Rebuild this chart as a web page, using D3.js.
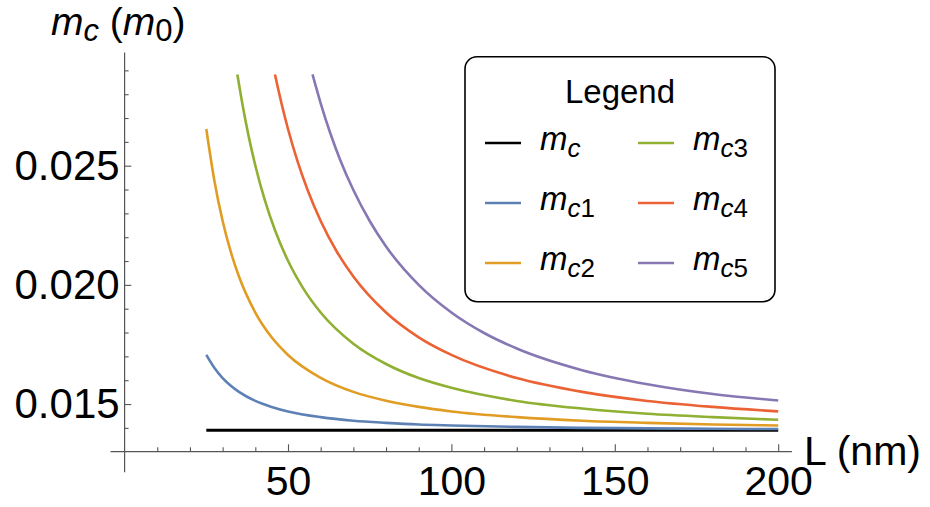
<!DOCTYPE html>
<html>
<head>
<meta charset="utf-8">
<script src="https://cdn.jsdelivr.net/npm/d3@7"></script>
<style>
  body { margin: 0; background: #fff; }
  svg { display: block; font-family: "Liberation Sans", Arial, Helvetica, sans-serif; }
</style>
</head>
<body>
<svg id="chart" width="930" height="507"></svg>
<script>
// data: L in nm, critical mass in m0
var L_mc = [25, 200];
var mc = [0.0139, 0.0139];

var L_12 = [25, 27.5, 30, 32.5, 35, 40, 45, 50, 60, 70, 80, 90, 100, 120, 140, 160, 180, 200];
var mc1 = [0.01706, 0.01651, 0.01609, 0.01577, 0.01551, 0.01513, 0.01488, 0.01469, 0.01445, 0.01430, 0.01421, 0.01414, 0.01410, 0.01404, 0.01400, 0.01398, 0.01396, 0.01395];
var mc2 = [0.02654, 0.02435, 0.02268, 0.02138, 0.02035, 0.01884, 0.01780, 0.01706, 0.01610, 0.01551, 0.01514, 0.01488, 0.01469, 0.01445, 0.01430, 0.01421, 0.01414, 0.01410];

var L_3 = [34.5, 36, 38, 40, 43, 46, 50, 55, 60, 70, 80, 90, 100, 120, 140, 160, 180, 200];
var mc3 = [0.02883, 0.02762, 0.02621, 0.02501, 0.02351, 0.02230, 0.02101, 0.01978, 0.01884, 0.01753, 0.01668, 0.01609, 0.01568, 0.01513, 0.01481, 0.01459, 0.01445, 0.01434];

var L_4 = [46, 48, 50, 53, 56, 60, 65, 70, 80, 90, 100, 120, 140, 160, 180, 200];
var mc4 = [0.02883, 0.02762, 0.02654, 0.02515, 0.02398, 0.02268, 0.02138, 0.02035, 0.01884, 0.01780, 0.01706, 0.01609, 0.01551, 0.01513, 0.01488, 0.01469];

var L_5 = [57.5, 60, 63, 66, 70, 75, 80, 90, 100, 110, 120, 140, 160, 180, 200];
var mc5 = [0.02883, 0.02762, 0.02634, 0.02523, 0.02398, 0.02268, 0.02161, 0.02000, 0.01884, 0.01798, 0.01733, 0.01642, 0.01583, 0.01542, 0.01515];

var xMajor = [50, 100, 150, 200];
var xMinor = [10, 20, 30, 40, 60, 70, 80, 90, 110, 120, 130, 140, 160, 170, 180, 190];
var yMajor = [0.015, 0.020, 0.025];
var yMinor = [0.014, 0.016, 0.017, 0.018, 0.019, 0.021, 0.022, 0.023, 0.024, 0.026, 0.027, 0.028, 0.029];

var seriesNames = ["c", "c1", "c2", "c3", "c4", "c5"];
var colors = ["#000000", "#5E81B5", "#E19C24", "#8FB032", "#EB6235", "#8778B3"];

var series = [
  { L: L_mc, v: mc },
  { L: L_12, v: mc1 },
  { L: L_12, v: mc2 },
  { L: L_3, v: mc3 },
  { L: L_4, v: mc4 },
  { L: L_5, v: mc5 }
];

var svg = d3.select("#chart");

var x = d3.scaleLinear().domain([0, 200]).range([124.6, 778.2]);
var y = d3.scaleLinear().domain([0.013, 0.025]).range([451.7, 165.7]);

var axisColor = "#555";

// axis lines (Mathematica draws them a bit past the range)
svg.append("line")
  .attr("x1", x(-4.3)).attr("x2", x(204.2))
  .attr("y1", y(0.013)).attr("y2", y(0.013))
  .attr("stroke", axisColor).attr("stroke-width", 1.2);
svg.append("line")
  .attr("x1", x(0)).attr("x2", x(0))
  .attr("y1", y(0.02975)).attr("y2", y(0.01214))
  .attr("stroke", axisColor).attr("stroke-width", 1.2);

// x ticks
var xAxis = svg.append("g")
  .attr("transform", "translate(0," + y(0.013) + ")")
  .call(d3.axisBottom(x).tickValues(xMajor).tickSize(-7.4).tickPadding(14));
xAxis.select(".domain").remove();
svg.append("g")
  .attr("transform", "translate(0," + y(0.013) + ")")
  .call(d3.axisBottom(x).tickValues(xMinor).tickSize(-4.4).tickFormat(""))
  .select(".domain").remove();

// y ticks
var yAxis = svg.append("g")
  .attr("transform", "translate(" + x(0) + ",0)")
  .call(d3.axisLeft(y).tickValues(yMajor).tickSize(-6.7).tickPadding(5).tickFormat(d3.format(".3f")));
yAxis.select(".domain").remove();
svg.append("g")
  .attr("transform", "translate(" + x(0) + ",0)")
  .call(d3.axisLeft(y).tickValues(yMinor).tickSize(-4).tickFormat(""))
  .select(".domain").remove();

svg.selectAll(".tick line").attr("stroke", axisColor).attr("stroke-width", 1.1);
svg.selectAll(".tick text")
  .attr("fill", "#000")
  .style("font-family", "'Liberation Sans', Arial, sans-serif")
  .style("font-size", "41px");
yAxis.selectAll(".tick text").style("font-size", "42px");

// clip at the plot range top
svg.append("clipPath").attr("id", "plotClip")
  .append("rect")
  .attr("x", x(0)).attr("y", y(0.0289))
  .attr("width", x(204) - x(0)).attr("height", y(0.013) - y(0.0289));

var line = d3.line()
  .x(function(d) { return x(d[0]); })
  .y(function(d) { return y(d[1]); })
  .curve(d3.curveMonotoneX);

svg.append("g")
  .attr("clip-path", "url(#plotClip)")
  .selectAll("path")
  .data(series)
  .enter().append("path")
  .attr("d", function(s) { return line(s.L.map(function(l, i) { return [l, s.v[i]]; })); })
  .attr("fill", "none")
  .attr("stroke", function(s, i) { return colors[i]; })
  .attr("stroke-width", function(s, i) { return i == 0 ? 3.2 : 2.6; });

// axis labels
var yl = svg.append("text")
  .attr("x", 51).attr("y", 35)
  .style("font-size", "39px");
yl.append("tspan").style("font-style", "italic").text("m");
yl.append("tspan").style("font-style", "italic").style("font-size", "31px").attr("dy", 6).text("c");
yl.append("tspan").attr("dy", -6).text(" (");
yl.append("tspan").style("font-style", "italic").text("m");
yl.append("tspan").style("font-size", "31px").attr("dy", 6).text("0");
yl.append("tspan").attr("dy", -6).text(")");

svg.append("text")
  .attr("x", 804).attr("y", 465)
  .style("font-size", "41px")
  .text("L (nm)");

// legend
svg.append("rect")
  .attr("x", 465).attr("y", 56.7)
  .attr("width", 310).attr("height", 245)
  .attr("rx", 12).attr("ry", 12)
  .attr("fill", "#fff")
  .attr("stroke", "#000")
  .attr("stroke-width", 1.6);

svg.append("text")
  .attr("x", 620).attr("y", 103)
  .attr("text-anchor", "middle")
  .style("font-size", "33px")
  .text("Legend");

var legend = svg.selectAll(".legend")
  .data(seriesNames)
  .enter().append("g")
  .attr("class", "legend")
  .attr("transform", function(d, i) {
    var col = Math.floor(i / 3), row = i % 3;
    return "translate(" + (485 + col * 153) + "," + (143 + row * 60) + ")";
  });

legend.append("line")
  .attr("x1", 0).attr("x2", 36)
  .attr("y1", 0).attr("y2", 0)
  .attr("stroke", function(d, i) { return colors[i]; })
  .attr("stroke-width", 2.6);

var lt = legend.append("text")
  .attr("x", 55).attr("y", 7)
  .style("font-size", "33px");
lt.append("tspan").style("font-style", "italic").text("m");
lt.append("tspan").style("font-style", "italic").style("font-size", "26px").attr("dy", 7).text("c");
lt.append("tspan").style("font-size", "26px").text(function(d) { return d.substring(1); });
</script>
</body>
</html>
